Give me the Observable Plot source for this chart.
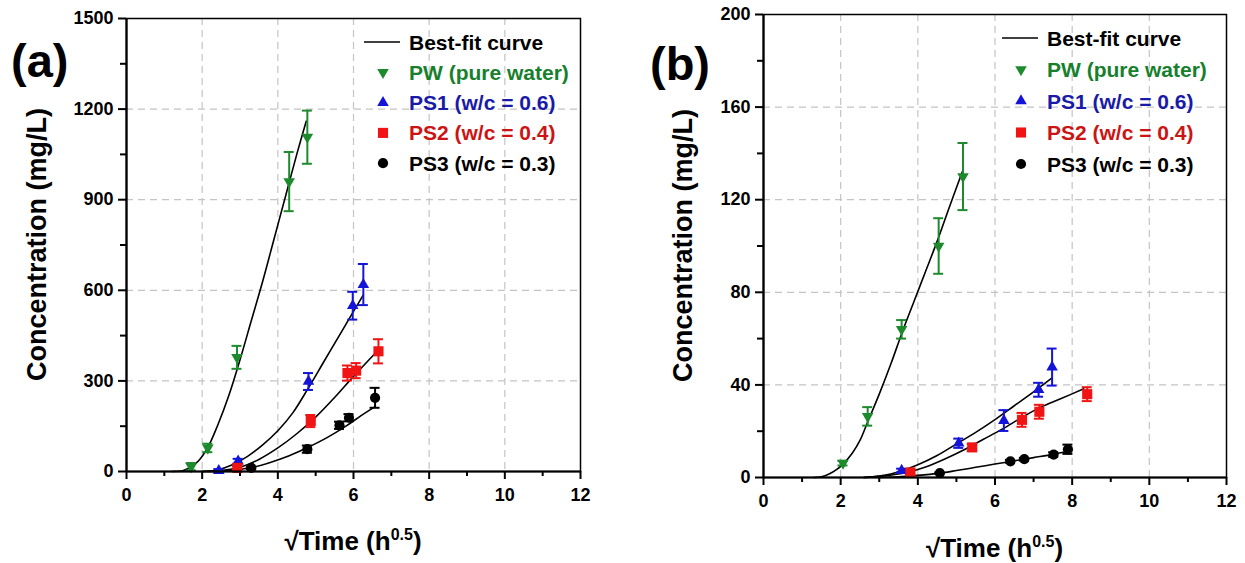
<!DOCTYPE html>
<html><head><meta charset="utf-8">
<script src="https://cdn.jsdelivr.net/npm/d3@7"></script>
<script src="https://cdn.jsdelivr.net/npm/@observablehq/plot@0.6"></script>
<style>
body{margin:0;background:#fff;font-family:"Liberation Sans",Arial,sans-serif;}
#wrap{position:relative;width:1245px;height:563px;overflow:hidden;}
#wrap > div{position:absolute;top:0;}
</style></head><body>
<div id="wrap"><div id="pa" style="left:0px"></div><div id="pb" style="left:622px"></div></div>
<script>
// ---------- shared ----------
const seriesKeys = ["PW", "PS1", "PS2", "PS3"];
const seriesLabels = ["PW (pure water)", "PS1 (w/c = 0.6)", "PS2 (w/c = 0.4)", "PS3 (w/c = 0.3)"];
const markerColors = ["#1e8a2e", "#1414d8", "#f01414", "#000000"];
const textColors = ["#17802c", "#1a1aa8", "#cc1414", "#000000"];
const symbols = ["triangle", "triangle", "square", "circle"];
const rotations = [180, 0, 0, 0];
const xMajor = [0, 2, 4, 6, 8, 10, 12];
const xMinor = [1, 3, 5, 7, 9, 11];

// ---------- panel (a) measured points ----------
const aPW_x = [1.71, 2.15, 2.92, 4.30, 4.78];
const aPW_y = [16, 78, 378, 960, 1107];
const aPW_e = [12, 14, 38, 98, 88];
const aPS1_x = [2.44, 2.95, 4.81, 5.98, 6.26];
const aPS1_y = [3, 34, 298, 549, 619];
const aPS1_e = [5, 8, 28, 46, 68];
const aPS2_x = [2.93, 4.87, 5.84, 6.07, 6.66];
const aPS2_y = [12, 167, 326, 334, 398];
const aPS2_e = [6, 20, 25, 25, 40];
const aPS3_x = [3.30, 4.78, 5.63, 5.88, 6.57];
const aPS3_y = [12, 74, 153, 178, 244];
const aPS3_e = [4, 12, 12, 12, 33];
// panel (a) best-fit curves
const aPW_cx = [1.2, 1.5, 1.7, 1.9, 2.15, 2.4, 2.7, 3.0, 3.3, 3.6, 3.9, 4.2, 4.5, 4.75];
const aPW_cy = [0, 3, 15, 35, 80, 150, 250, 370, 500, 630, 770, 910, 1050, 1160];
const aPS1_cx = [2.0, 2.4, 2.8, 3.2, 3.6, 4.0, 4.4, 4.8, 5.2, 5.6, 6.0, 6.26];
const aPS1_cy = [0, 5, 22, 50, 88, 135, 195, 275, 360, 445, 530, 585];
const aPS2_cx = [2.0, 2.5, 3.0, 3.5, 4.0, 4.5, 5.0, 5.5, 6.0, 6.6];
const aPS2_cy = [0, 3, 14, 40, 78, 125, 180, 245, 315, 395];
const aPS3_cx = [2.2, 2.7, 3.3, 3.8, 4.3, 4.8, 5.3, 5.8, 6.2, 6.57];
const aPS3_cy = [0, 3, 13, 30, 52, 80, 112, 150, 185, 215];
const aYMajor = [0, 300, 600, 900, 1200, 1500];
const aYMinor = [150, 450, 750, 1050, 1350];

// ---------- panel (b) measured points ----------
const bPW_x = [2.06, 2.70, 3.58, 4.54, 5.17];
const bPW_y = [6.2, 26.4, 64, 100, 130];
const bPW_e = [1, 4, 4, 12, 14.5];
const bPS1_x = [3.58, 5.06, 6.23, 7.13, 7.48];
const bPS1_y = [3, 14.8, 24.6, 37.9, 47.7];
const bPS1_e = [0.8, 2, 4.5, 3, 8];
const bPS2_x = [3.81, 5.41, 6.70, 7.15, 8.39];
const bPS2_y = [2.2, 13, 24.9, 28.4, 36];
const bPS2_e = [0.8, 1.5, 3, 3, 3];
const bPS3_x = [4.57, 6.40, 6.76, 7.52, 7.89];
const bPS3_y = [1.9, 7, 7.9, 9.9, 12.2];
const bPS3_e = [0.3, 0.6, 0.6, 1, 2];
// panel (b) best-fit curves
const bPW_cx = [1.3, 1.5, 1.7, 1.9, 2.06, 2.3, 2.5, 2.7, 3.0, 3.3, 3.6, 3.9, 4.2, 4.5, 4.8, 5.15];
const bPW_cy = [0, 0.3, 1.5, 3.5, 5.8, 10.5, 16, 24, 36, 49, 63, 76, 89, 102, 116, 132];
const bPS1_cx = [2.6, 3.0, 3.3, 3.6, 4.0, 4.5, 5.0, 5.5, 6.0, 6.5, 7.0, 7.48];
const bPS1_cy = [0, 0.6, 1.5, 3, 5.5, 9.5, 14.5, 19.5, 25, 31, 37, 43];
const bPS2_cx = [2.6, 3.0, 3.5, 3.8, 4.2, 4.7, 5.2, 5.7, 6.2, 6.7, 7.2, 7.7, 8.3];
const bPS2_cy = [0, 0.5, 1.5, 2.5, 4.5, 8, 12, 16.5, 21, 26, 30.5, 34, 38.3];
const bPS3_cx = [3.0, 3.5, 4.0, 4.57, 5.0, 5.5, 6.0, 6.5, 7.0, 7.5, 7.89];
const bPS3_cy = [0, 0.3, 0.9, 1.9, 3, 4.4, 5.8, 7.2, 8.6, 10, 11.3];
const bYMajor = [0, 40, 80, 120, 160, 200];
const bYMinor = [20, 60, 100, 140, 180];

function pts(xs, ys, es, k) { return xs.map((x, i) => ({x, y: ys[i], e: es[i], k})); }
function crv(xs, ys, k) { return xs.map((x, i) => ({x, y: ys[i], k})); }

const dotR = {triangle: 4.3, square: 5.7, circle: 5.1};
const ff = "'Liberation Sans', Arial, sans-serif";

function drawPanel(cfg) {
  const points = cfg.points.flat();
  const curves = cfg.curves;
  const colorOf = d => markerColors[seriesKeys.indexOf(d.k)];
  const marks = [
    Plot.gridX(xMajor.slice(1, -1), {stroke: "#c4c4c4", strokeOpacity: 1, strokeDasharray: "7,5", strokeWidth: 1.2}),
    Plot.gridY(cfg.yMajor.slice(1, -1), {stroke: "#c4c4c4", strokeOpacity: 1, strokeDasharray: "7,5", strokeWidth: 1.2}),
    Plot.axisX(xMajor, {tickSize: 8, text: null, label: null, strokeWidth: 2}),
    Plot.axisX(xMinor, {tickSize: 5, text: null, label: null, strokeWidth: 2}),
    Plot.axisY(cfg.yMajor, {tickSize: 8, text: null, label: null, strokeWidth: 2}),
    Plot.axisY(cfg.yMinor, {tickSize: 6, text: null, label: null, strokeWidth: 2}),
    // tick labels drawn through the scales
    Plot.text(xMajor, {x: d => d, text: d => String(d), frameAnchor: "bottom", lineAnchor: "top", dy: 17,
      fontSize: 18, fontWeight: "bold", fill: "#000", fontFamily: ff}),
    Plot.text(cfg.yMajor, {y: d => d, text: d => String(d), frameAnchor: "left", textAnchor: "end", dx: -13,
      fontSize: 18, fontWeight: "bold", fill: "#000", fontFamily: ff}),
    ...curves.map(c => Plot.line(c, {x: "x", y: "y", curve: "catmull-rom", stroke: "#000", strokeWidth: 1.6})),
    Plot.ruleX(points, {x: "x", y1: d => d.y - d.e, y2: d => d.y + d.e, stroke: colorOf, strokeWidth: 2}),
    Plot.ruleY(points, {y: d => d.y + d.e, x1: "x", x2: "x", insetLeft: -5, insetRight: -5, stroke: colorOf, strokeWidth: 2}),
    Plot.ruleY(points, {y: d => d.y - d.e, x1: "x", x2: "x", insetLeft: -5, insetRight: -5, stroke: colorOf, strokeWidth: 2}),
    ...seriesKeys.map((k, i) => Plot.dot(points.filter(d => d.k === k), {
      x: "x", y: "y", symbol: () => symbols[i], rotate: rotations[i], fill: markerColors[i], stroke: "none", r: dotR[symbols[i]]
    })),
    Plot.frame({stroke: "#000", strokeWidth: 1.5}),
    Plot.ruleX([0], {stroke: "#000", strokeWidth: 2.2}),
    Plot.ruleY([0], {stroke: "#000", strokeWidth: 2.2})
  ];
  const chart = Plot.plot({
    width: cfg.width, height: 563,
    marginLeft: cfg.ml, marginRight: cfg.mr, marginTop: cfg.mt, marginBottom: cfg.mb,
    x: {domain: [0, 12]},
    y: {domain: [cfg.yMajor[0], cfg.yMajor[cfg.yMajor.length - 1]]},
    symbol: {type: "identity"},
    style: {fontFamily: ff, fontSize: "17px", fontWeight: "bold", color: "#000", background: "#fff", overflow: "visible"},
    marks
  });
  document.getElementById(cfg.div).appendChild(chart);
  const svg = d3.select(chart);
  const fx0 = cfg.ml, fx1 = cfg.width - cfg.mr, fy0 = cfg.mt, fy1 = 563 - cfg.mb;
  // panel letter
  svg.append("text").attr("x", cfg.letterX).attr("y", cfg.letterY).attr("text-anchor", "start").attr("font-family", ff)
    .attr("font-size", 47).attr("font-weight", "bold").attr("fill", "#000").text(cfg.letter);
  // y label
  svg.append("text").attr("transform", `translate(${cfg.yLabelX},${(fy0 + fy1) / 2}) rotate(-90)`)
    .attr("text-anchor", "middle").attr("dominant-baseline", "central").attr("font-family", ff)
    .attr("font-size", 27).attr("font-weight", "bold").attr("fill", "#000").text("Concentration (mg/L)");
  // x label with superscript
  const xl = svg.append("text").attr("x", (fx0 + fx1) / 2).attr("y", cfg.xLabelY).attr("text-anchor", "middle")
    .attr("font-family", ff).attr("font-size", 26).attr("font-weight", "bold").attr("fill", "#000");
  xl.append("tspan").text("√Time (h");
  xl.append("tspan").attr("font-size", 16).attr("dy", -10).text("0.5");
  xl.append("tspan").attr("dy", 10).text(")");
  // legend
  const lg = svg.append("g").attr("font-family", ff).attr("font-weight", "bold").attr("font-size", 21).attr("text-anchor", "start");
  const names = ["Best-fit curve", ...seriesLabels];
  const colors = ["#000", ...textColors];
  names.forEach((n, i) => {
    const y = cfg.legY + i * cfg.legStep;
    if (i === 0) {
      lg.append("line").attr("x1", cfg.legX - 19).attr("x2", cfg.legX + 17).attr("y1", y).attr("y2", y)
        .attr("stroke", "#000").attr("stroke-width", 1.6);
    } else {
      const s = symbols[i - 1];
      const r = dotR[s];
      const sym = s === "triangle" ? d3.symbolTriangle : s === "square" ? d3.symbolSquare : d3.symbolCircle;
      lg.append("path").attr("d", d3.symbol(sym, Math.PI * r * r)())
        .attr("transform", `translate(${cfg.legX},${y}) rotate(${rotations[i - 1]})`)
        .attr("fill", markerColors[i - 1]);
    }
    lg.append("text").attr("x", cfg.legX + 26).attr("y", y).attr("dy", "0.36em").attr("text-anchor", "start")
      .attr("fill", colors[i]).text(n);
  });
}

drawPanel({
  div: "pa", width: 622, ml: 126, mr: 42, mt: 18, mb: 92,
  yMajor: aYMajor, yMinor: aYMinor,
  points: [pts(aPW_x, aPW_y, aPW_e, "PW"), pts(aPS1_x, aPS1_y, aPS1_e, "PS1"), pts(aPS2_x, aPS2_y, aPS2_e, "PS2"), pts(aPS3_x, aPS3_y, aPS3_e, "PS3")],
  curves: [crv(aPW_cx, aPW_cy, "PW"), crv(aPS1_cx, aPS1_cy, "PS1"), crv(aPS2_cx, aPS2_cy, "PS2"), crv(aPS3_cx, aPS3_cy, "PS3")],
  letter: "(a)", letterX: 11, letterY: 77, yLabelX: 37, xLabelY: 550,
  legX: 383, legY: 42, legStep: 30.3
});
drawPanel({
  div: "pb", width: 623, ml: 141, mr: 19, mt: 14, mb: 86,
  yMajor: bYMajor, yMinor: bYMinor,
  points: [pts(bPW_x, bPW_y, bPW_e, "PW"), pts(bPS1_x, bPS1_y, bPS1_e, "PS1"), pts(bPS2_x, bPS2_y, bPS2_e, "PS2"), pts(bPS3_x, bPS3_y, bPS3_e, "PS3")],
  curves: [crv(bPW_cx, bPW_cy, "PW"), crv(bPS1_cx, bPS1_cy, "PS1"), crv(bPS2_cx, bPS2_cy, "PS2"), crv(bPS3_cx, bPS3_cy, "PS3")],
  letter: "(b)", letterX: 28, letterY: 80, yLabelX: 61, xLabelY: 557,
  legX: 399, legY: 38, legStep: 31.5
});
</script>
</body></html>
